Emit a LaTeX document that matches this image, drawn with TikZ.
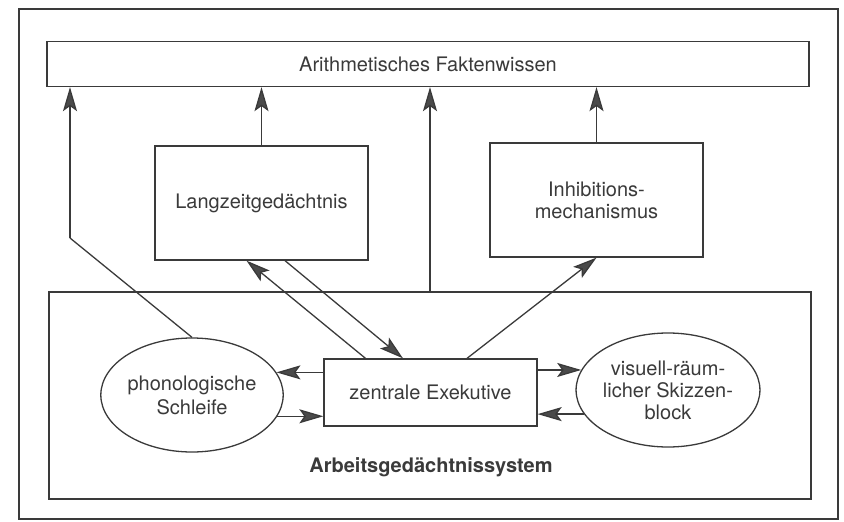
\documentclass[tikz,border=0pt]{standalone}
\usepackage{fontspec}
\setmainfont{TeX Gyre Heros}
\usetikzlibrary{arrows.meta,shapes.geometric}
\definecolor{ink}{HTML}{3A3A3A}
\definecolor{headc}{HTML}{4A4A4A}
\begin{document}
\begin{tikzpicture}[x=1pt,y=-1pt,
  every node/.style={font=\fontsize{20}{22}\selectfont, text=ink},
  box/.style={draw=ink, line width=1.3pt, rectangle, inner sep=0pt, align=center},
  oval/.style={draw=ink, line width=1.3pt, ellipse, inner sep=0pt, align=center,
               minimum width=155pt, minimum height=114pt},
  arr/.style={draw=ink, line width=1.3pt,
              -{Stealth[length=24pt 0,width=14pt 0,inset=5pt 0,fill=headc]}},
  conn/.style={draw=ink, line width=1.3pt}]
\useasboundingbox (0,0) rectangle (844,522);
% outer frame
\node[box, minimum width=819pt, minimum height=510pt] (frame) at (428.5,264) {};
% top box
\node[box, minimum width=762pt, minimum height=45pt] (fakt) at (428,64) {Arithmetisches Faktenwissen};
% middle boxes
\node[box, minimum width=213pt, minimum height=114pt] (lzg) at (261.5,203) {Langzeitgedächtnis};
\node[box, minimum width=213pt, minimum height=114pt] (inhib) at (596.5,200) {Inhibitions-\\mechanismus};
% working memory system
\node[box, minimum width=762pt, minimum height=207pt] (work) at (430,395.5) {};
\node[box, minimum width=213pt, minimum height=67pt] (exec) at (430.5,392.5) {zentrale Exekutive};
\node[oval] (phon) at (192,395) {phonologische\\[2pt]Schleife};
\node[oval] (vis) at (668,390) {visuell-räum-\\licher Skizzen-\\block};
\node[font=\fontsize{20}{22}\selectfont\bfseries] (wlabel) at (431,467) {Arbeitsgedächtnissystem};
% connectors to top box
\coordinate (bend) at (70,238);
\draw[conn] (phon.north) -- (bend);
\draw[arr] (bend) -- (bend |- fakt.south);
\draw[arr] (lzg.north) -- (lzg.north |- fakt.south);
\draw[arr] (work.north) -- (work.north |- fakt.south);
\draw[arr] (inhib.north) -- (inhib.north |- fakt.south);
% diagonal arrows
\draw[arr] ([xshift=-65pt]exec.north) -- ([xshift=-15pt]lzg.south);
\draw[arr] ([xshift=23.5pt]lzg.south) -- ([xshift=-27.5pt]exec.north);
\draw[arr] ([xshift=36.5pt]exec.north) -- (inhib.south);
% horizontal arrows
\draw[arr] (exec.west |- phon.15) -- (phon.15);
\draw[arr] (phon.-14) -- (phon.-14 -| exec.west);
\draw[arr] (exec.east |- vis.167) -- (vis.167);
\draw[arr] (vis.196) -- (vis.196 -| exec.east);
\end{tikzpicture}
\end{document}
